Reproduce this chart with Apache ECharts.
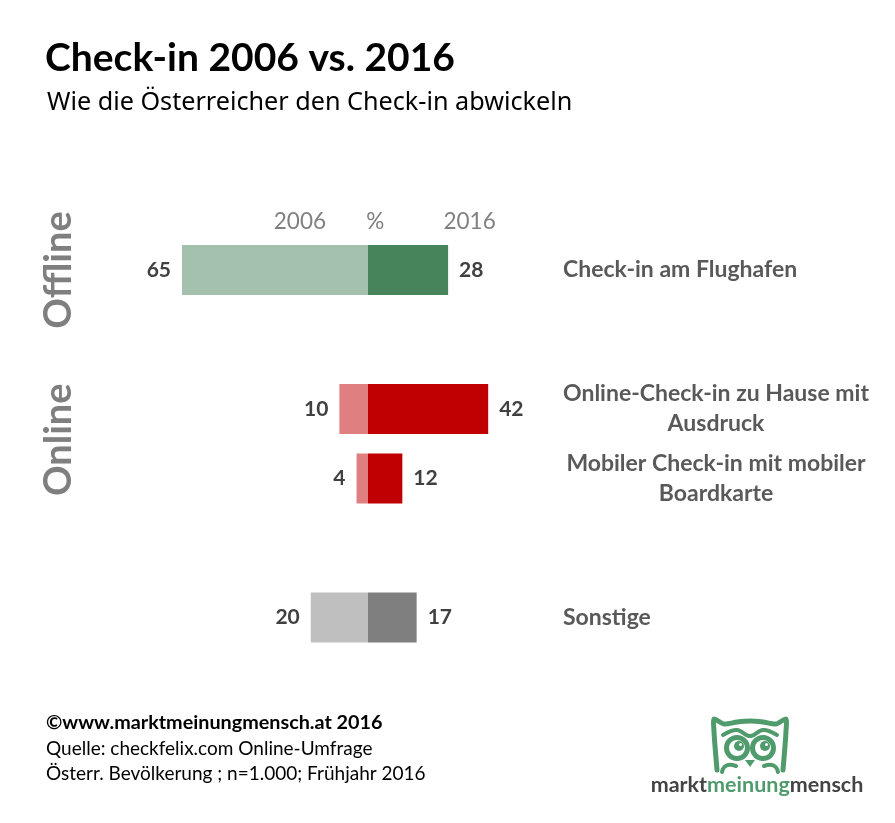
<!DOCTYPE html>
<html>
<head>
<meta charset="utf-8">
<script src="https://cdn.jsdelivr.net/npm/echarts@6/dist/echarts.min.js"></script>
<style>
html,body{margin:0;padding:0;background:#fff;}
#c{width:895px;height:823px;}
</style>
</head>
<body>
<div id="c"></div>
<script>
// ---- data ----
var categories = ['Check-in am Flughafen', '', 'Online-Check-in zu Hause mit\nAusdruck', 'Mobiler Check-in mit mobiler\nBoardkarte', '', 'Sonstige'];
var values2006 = [65, null, 10, 4, null, 20];
var values2016 = [28, null, 42, 12, null, 17];
var colors2006 = ['#a3c1ad', null, '#e07f7f', '#e07f7f', null, '#bfbfbf'];
var colors2016 = ['#47845c', null, '#c00000', '#c00000', null, '#7f7f7f'];
var headerLabels = ['2006', '%', '2016'];
var groupLabels = ['Offline', 'Online'];

var FONT = 'Lato, "Noto Sans", sans-serif';
var chart = echarts.init(document.getElementById('c'), null, {renderer: 'canvas'});

function mk(vals, cols, sign) {
  return vals.map(function (v, i) {
    if (v === null) return '-';
    return {value: sign * v, itemStyle: {color: cols[i]}};
  });
}

var option = {
  backgroundColor: '#ffffff',
  animation: false,
  title: [
    {text: 'Check-in 2006 vs. 2016', left: 40, top: 34,
     textStyle: {fontFamily: FONT, fontWeight: 'bold', fontSize: 39, color: '#000'}},
    {text: 'Wie die Österreicher den Check-in abwickeln', left: 42, top: 85,
     textStyle: {fontFamily: '"Noto Sans", sans-serif', fontWeight: 'normal', fontSize: 25.2, color: '#000'}}
  ],
  grid: {left: 182, right: 341, top: 235.25, bottom: 170.75, containLabel: false},
  xAxis: {type: 'value', min: -65, max: 65, show: false},
  yAxis: [{
    type: 'category', data: categories, inverse: true, position: 'right',
    axisLine: {show: false}, axisTick: {show: false}, splitLine: {show: false},
    axisLabel: {
      margin: 9, align: 'left',
      formatter: function (v) {
        if (!v) return '';
        if (v.indexOf('\n') >= 0) {
          return v.split('\n').map(function (l) { return '{c|' + l + '}'; }).join('\n');
        }
        return '{s|' + v + '}';
      },
      rich: {
        c: {fontFamily: FONT, fontWeight: 'bold', fontSize: 23, color: '#595959', width: 306, align: 'center', lineHeight: 30},
        s: {fontFamily: FONT, fontWeight: 'bold', fontSize: 23, color: '#595959', align: 'left'}
      }
    }
  }],
  series: [
    {name: '2006', type: 'bar', stack: 'a', barWidth: 50, data: mk(values2006, colors2006, -1),
     label: {show: true, position: 'left', distance: 11, fontFamily: FONT, fontWeight: 'bold', fontSize: 21, color: '#404040',
       formatter: function (p) { return Math.abs(p.value); }}},
    {name: '2016', type: 'bar', stack: 'a', barWidth: 50, data: mk(values2016, colors2016, 1),
     label: {show: true, position: 'right', distance: 11, fontFamily: FONT, fontWeight: 'bold', fontSize: 21, color: '#404040',
       formatter: function (p) { return p.value; }}}
  ]
};
chart.setOption(option);

// positions derived from the axes
var yOff = chart.convertToPixel({yAxisIndex: 0}, 0);
var yOnA = chart.convertToPixel({yAxisIndex: 0}, 2);
var yOnB = chart.convertToPixel({yAxisIndex: 0}, 3);
var x2006 = chart.convertToPixel({xAxisIndex: 0}, -23.8);
var xPct = chart.convertToPixel({xAxisIndex: 0}, 2.5);
var x2016 = chart.convertToPixel({xAxisIndex: 0}, 35.5);

var hdrStyle = {fontFamily: FONT, fontSize: 22.5, fill: '#808080', align: 'center', verticalAlign: 'middle'};
var grpStyle = {fontFamily: FONT, fontSize: 38, fontWeight: 'bold', fill: '#7f7f7f', align: 'center', verticalAlign: 'middle'};
var ftStyle = {fontFamily: FONT, fontSize: 19, fill: '#000', align: 'left', verticalAlign: 'middle'};
var G = '#4f9b6c';

var graphics = [
  {type: 'text', x: x2006, y: 222, style: Object.assign({text: headerLabels[0]}, hdrStyle)},
  {type: 'text', x: xPct, y: 222, style: Object.assign({text: headerLabels[1]}, hdrStyle)},
  {type: 'text', x: x2016, y: 222, style: Object.assign({text: headerLabels[2]}, hdrStyle)},
  {type: 'text', x: 59, y: yOff, rotation: Math.PI / 2, style: Object.assign({text: groupLabels[0]}, grpStyle)},
  {type: 'text', x: 59, y: (yOnA + yOnB) / 2 - 4, rotation: Math.PI / 2, style: Object.assign({text: groupLabels[1]}, grpStyle)},
  {type: 'text', x: 46, y: 723, style: Object.assign({}, ftStyle, {text: '©www.marktmeinungmensch.at 2016', fontWeight: 'bold', fontSize: 19.8})},
  {type: 'text', x: 46, y: 749, style: Object.assign({}, ftStyle, {text: 'Quelle: checkfelix.com Online-Umfrage'})},
  {type: 'text', x: 46, y: 774, style: Object.assign({}, ftStyle, {text: 'Österr. Bevölkerung ; n=1.000; Frühjahr 2016'})},
  // logo: owl
  {type: 'polyline', shape: {points: [[717, 770], [715, 746], [714, 731], [714, 719], [724, 724], [737, 722], [750, 721], [763, 722], [776, 724], [786, 719], [786, 731], [785, 746], [783, 770]], smooth: 0.25},
   style: {fill: 'none', stroke: G, lineWidth: 5, lineJoin: 'round', lineCap: 'round'}},
  {type: 'polyline', shape: {points: [[723, 735], [737, 730], [750, 736], [763, 730], [777, 735]], smooth: 0.4},
   style: {fill: 'none', stroke: G, lineWidth: 4, lineCap: 'round'}},
  {type: 'circle', shape: {cx: 737, cy: 748, r: 10.5}, style: {fill: '#fff', stroke: G, lineWidth: 5}},
  {type: 'circle', shape: {cx: 763, cy: 748, r: 10.5}, style: {fill: '#fff', stroke: G, lineWidth: 5}},
  {type: 'circle', shape: {cx: 739, cy: 746, r: 5}, style: {fill: G}},
  {type: 'circle', shape: {cx: 765, cy: 746, r: 5}, style: {fill: G}},
  {type: 'circle', shape: {cx: 740.5, cy: 744.5, r: 1.5}, style: {fill: '#fff'}},
  {type: 'circle', shape: {cx: 766.5, cy: 744.5, r: 1.5}, style: {fill: '#fff'}},
  {type: 'polygon', shape: {points: [[745, 760], [755, 760], [750, 767]]}, style: {fill: G}},
  {type: 'bezierCurve', shape: {x1: 722, y1: 772, cpx1: 724, cpy1: 762, x2: 736, y2: 766}, style: {fill: 'none', stroke: G, lineWidth: 4, lineCap: 'round'}},
  {type: 'bezierCurve', shape: {x1: 778, y1: 772, cpx1: 776, cpy1: 762, x2: 764, y2: 766}, style: {fill: 'none', stroke: G, lineWidth: 4, lineCap: 'round'}},
  {type: 'text', x: 757, y: 785, style: {
    text: '{a|markt}{b|meinung}{a|mensch}', align: 'center', verticalAlign: 'middle',
    rich: {
      a: {fontFamily: FONT, fontWeight: 'bold', fontSize: 21.5, fill: '#444444', color: '#444444'},
      b: {fontFamily: FONT, fontWeight: 'bold', fontSize: 21.5, fill: G, color: G}
    }}}
];
chart.setOption({graphic: graphics});
</script>
</body>
</html>
